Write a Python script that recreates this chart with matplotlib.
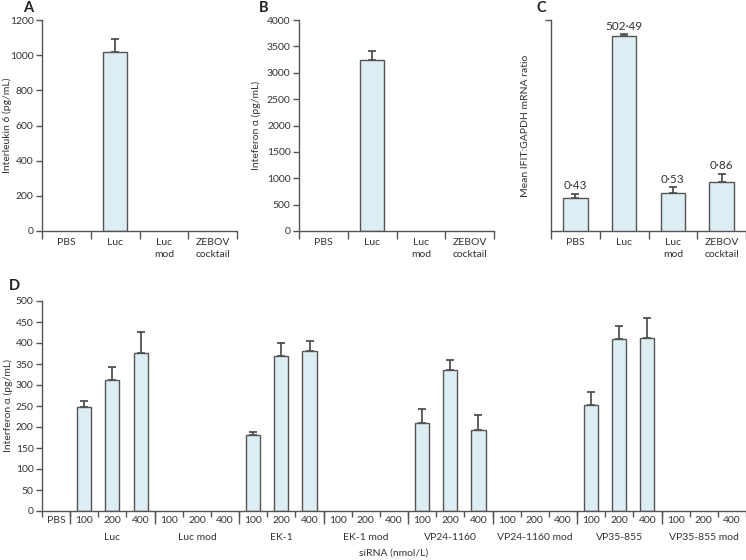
import matplotlib
matplotlib.use("Agg")
import matplotlib.pyplot as plt
import matplotlib.transforms as mtrans
import numpy as np

plt.rcParams['font.family'] = ['Lato', 'DejaVu Sans']
plt.rcParams['font.size'] = 7.5

# panels A-C data
top_cats = ["PBS", "Luc", "Luc\nmod", "ZEBOV\ncocktail"]
il6_vals = [0, 1020, 0, 0]
il6_err = [0, 72, 0, 0]
ifn_vals = [0, 3245, 0, 0]
ifn_err = [0, 160, 0, 0]
ifit_vals = [0.43, 502.49, 0.53, 0.86]
ifit_err = [0.08, 33, 0.14, 0.33]
ifit_labels = ["0·43", "502·49", "0·53", "0·86"]

# panel D data
d_groups = ["Luc", "Luc mod", "EK-1", "EK-1 mod", "VP24-1160", "VP24-1160 mod",
            "VP35-855", "VP35-855 mod"]
d_doses = ["100", "200", "400"]
pbs_val = 0
luc_vals = [247, 313, 377]
luc_err = [16, 31, 50]
lucmod_vals = [0, 0, 0]
ek1_vals = [181, 369, 381]
ek1_err = [8, 30, 23]
ek1mod_vals = [0, 0, 0]
vp24_vals = [209, 335, 194]
vp24_err = [33, 24, 35]
vp24mod_vals = [0, 0, 0]
vp35_vals = [252, 409, 413]
vp35_err = [32, 31, 46]
vp35mod_vals = [0, 0, 0]

fill = "#dcedf3"
edge = "#555555"
txt = "#333333"
W, H = 746, 560


def box(l, r, b, t):
    return [l / W, (H - b) / H, (r - l) / W, (b - t) / H]


def style(ax):
    for s in ["top", "right"]:
        ax.spines[s].set_visible(False)
    for s in ["left", "bottom"]:
        ax.spines[s].set_color(edge)
        ax.spines[s].set_linewidth(1)
    ax.tick_params(axis="y", length=4, width=1, color=edge, pad=2, labelcolor=txt, labelsize=7.5)
    ax.tick_params(axis="x", which="major", length=6, width=1, color=edge, labelbottom=False)
    ax.tick_params(axis="x", which="minor", length=0, pad=5, labelcolor=txt, labelsize=7.5)


def draw_bars(ax, x, vals, err):
    x = np.array(x, dtype=float)
    vals = np.array(vals, dtype=float)
    err = np.array(err, dtype=float)
    b = vals > 0
    ax.bar(x[b], vals[b], width=0.5, color=fill, edgecolor=edge, linewidth=1, zorder=2)
    m = err > 0
    ax.errorbar(x[m], vals[m], yerr=[np.zeros(m.sum()), err[m]], fmt="none",
                ecolor="#444444", elinewidth=1.2, capsize=3, capthick=1.2, zorder=1)


def ylab(ax, text, xpix, left, width):
    # xpix = right edge of the rotated label, in figure pixels
    ax.set_ylabel(text, color=txt, fontsize=7.5)
    ax.yaxis.set_label_coords((xpix - left) / width, 0.5)


fig = plt.figure(figsize=(7.46, 5.6), dpi=100)

axA = fig.add_axes(box(42, 237, 231, 20))
axB = fig.add_axes(box(299, 494, 231, 20))
axC = fig.add_axes(box(551, 746, 231, 20))

xs = np.arange(len(top_cats)) + 0.5
for ax in [axA, axB, axC]:
    style(ax)
    ax.set_xlim(0, len(top_cats))
    ax.set_xticks(np.arange(len(top_cats) + 1))
    ax.set_xticks(xs, minor=True)
    ax.set_xticklabels(top_cats, minor=True, linespacing=1.4)

draw_bars(axA, xs, il6_vals, il6_err)
axA.set_ylim(0, 1200)
axA.set_yticks(np.arange(0, 1201, 200))
ylab(axA, "Interleukin 6 (pg/mL)", 12, 42, 195)

draw_bars(axB, xs, ifn_vals, ifn_err)
axB.set_ylim(0, 4000)
axB.set_yticks(np.arange(0, 4001, 500))
ylab(axB, "Inteferon α (pg/mL)", 261, 299, 195)

axC.set_yscale("log")
draw_bars(axC, xs, ifit_vals, ifit_err)
axC.set_ylim(0.1, 1000)
axC.set_yticks([1000])
axC.set_yticklabels([""])
axC.minorticks_off()
axC.set_xticks(xs, minor=True)
axC.set_xticklabels(top_cats, minor=True, linespacing=1.4)
axC.tick_params(axis="x", which="minor", length=0, pad=5)
ylab(axC, "Mean IFIT:GAPDH mRNA ratio", 530, 551, 195)
for x, v, e, lab in zip(xs, ifit_vals, ifit_err, ifit_labels):
    axC.annotate(lab, (x, v + e), xytext=(0, 2), textcoords="offset points",
                 ha="center", va="bottom", color=txt, fontsize=8.5)

# panel D
axD = fig.add_axes(box(42, 746, 511, 301))
style(axD)
d_vals = [pbs_val] + luc_vals + lucmod_vals + ek1_vals + ek1mod_vals + vp24_vals + vp24mod_vals \
    + vp35_vals + vp35mod_vals
d_err = [0] + luc_err + [0, 0, 0] + ek1_err + [0, 0, 0] + vp24_err + [0, 0, 0] + vp35_err + [0, 0, 0]
nslot = len(d_vals)
dx = np.arange(nslot) + 0.5
axD.set_xlim(0, nslot)
draw_bars(axD, dx, d_vals, d_err)
axD.set_ylim(0, 500)
axD.set_yticks(np.arange(0, 501, 50))
ylab(axD, "Interferon α (pg/mL)", 13, 42, 704)
axD.set_xticks(np.arange(nslot + 1))
axD.tick_params(axis="x", which="major", length=4)
axD.set_xticks(dx, minor=True)
axD.set_xticklabels(["PBS"] + d_doses * len(d_groups), minor=True)
axD.tick_params(axis="x", which="minor", length=0, pad=3.5)

tr = mtrans.blended_transform_factory(axD.transData, axD.transAxes)
seps = [1 + 3 * i for i in range(len(d_groups))]
axD.vlines(seps, -0.062, 0, transform=tr, colors=edge, linewidth=1, clip_on=False)
for i, g in enumerate(d_groups):
    axD.text(2.5 + 3 * i, -0.128, g, transform=tr, ha="center", va="center",
             color=txt, fontsize=7.5)
axD.text(0.5, -0.2, "siRNA (nmol/L)", transform=axD.transAxes, ha="center",
         va="center", color=txt, fontsize=7.5)

for lab, x, y in [("A", 28, 8), ("B", 264, 8), ("C", 541, 8), ("D", 14, 286)]:
    fig.text(x / W, 1 - y / H, lab, ha="center", va="center", fontsize=10.5,
             fontweight="bold", color="#222222")

fig.savefig("out.png", dpi=100)
